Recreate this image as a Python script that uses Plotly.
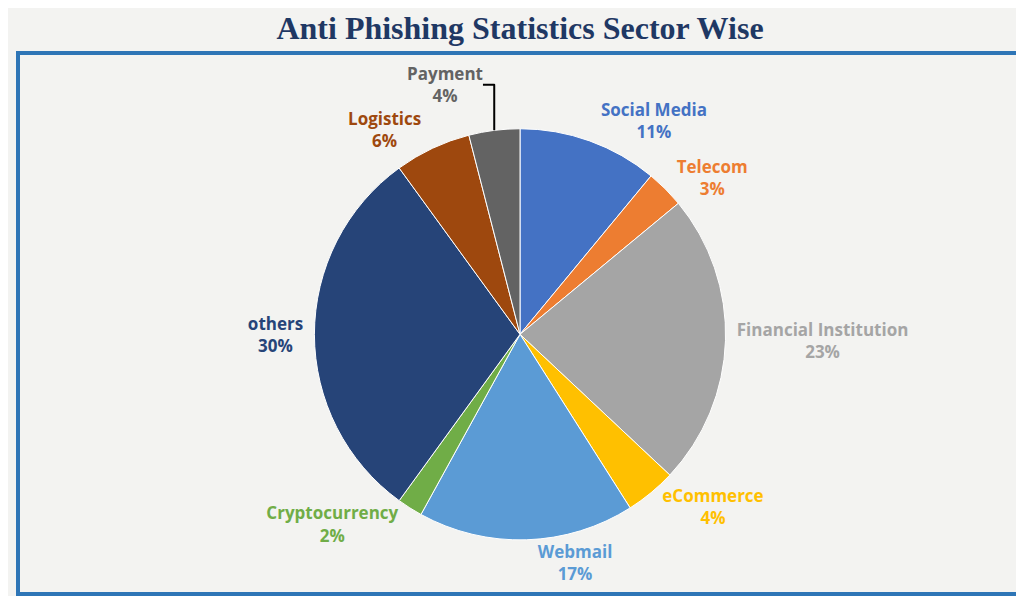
import plotly.graph_objects as go

sectors = ["Social Media", "Telecom", "Financial Institution", "eCommerce", "Webmail",
           "Cryptocurrency", "others", "Logistics", "Payment"]
shares = [11, 3, 23, 4, 17, 2, 30, 6, 4]
colors = ["#4472C4", "#ED7D31", "#A5A5A5", "#FFC000", "#5B9BD5",
          "#70AD47", "#264478", "#9E480E", "#636363"]

fig = go.Figure(go.Pie(
    labels=sectors,
    values=shares,
    sort=False,
    direction="clockwise",
    rotation=0,
    automargin=False,
    marker=dict(colors=colors, line=dict(color="white", width=1)),
    texttemplate="<b>%{label}<br>%{percent:.0%}</b>",
    textposition="outside",
    textfont=dict(family="Open Sans", size=17, color=colors),
    showlegend=False,
    domain=dict(x=[0.1, 0.9], y=[0.1, 0.86]),
))

fig.update_layout(
    width=1024, height=596,
    paper_bgcolor="#f3f3f1",
    margin=dict(l=10, r=10, t=45, b=10),
    title=dict(text="<b>Anti Phishing Statistics Sector Wise</b>", x=0.5, y=0.985,
               font=dict(family="Liberation Serif", size=32, color="#1F3864")),
    shapes=[dict(type="rect", xref="paper", yref="paper", x0=0, x1=1,
                 y0=0, y1=1, line=dict(color="#2E75B6", width=4))],
)

fig.write_html("out.html")
